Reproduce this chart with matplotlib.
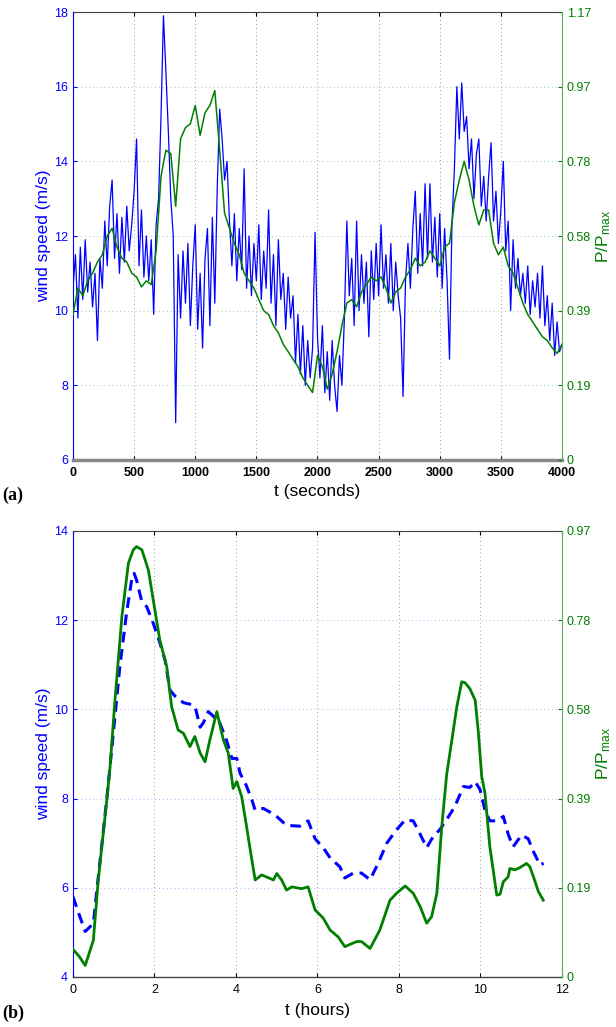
import numpy as np
import matplotlib
matplotlib.use("Agg")
import matplotlib.pyplot as plt

plt.rcParams['font.family'] = ['Liberation Sans', 'DejaVu Sans']
plt.rcParams['mathtext.fontset'] = 'custom'
plt.rcParams['mathtext.rm'] = 'Liberation Sans'
plt.rcParams['mathtext.it'] = 'Liberation Sans'

# ---- panel (a): 1 Hz record, every 20 s (wind) / 40 s (power)
t_wind_a = np.arange(0, 4001, 20)
wind_a = [
    10.6, 11.5, 9.8, 11.7, 10.3, 11.9, 10.5, 11.3, 10.1, 11.0,
    9.2, 11.4, 10.6, 12.4, 11.2, 12.8, 13.5, 11.4, 12.6, 11.0,
    12.5, 11.3, 12.8, 11.6, 12.3, 13.2, 14.6, 11.2, 12.7, 10.9,
    12.0, 10.8, 11.9, 9.9, 12.3, 13.0, 15.2, 17.9, 16.4, 14.8,
    13.0, 12.0, 7.0, 11.5, 9.8, 11.6, 10.2, 11.8, 9.6, 11.2,
    12.3, 9.5, 11.0, 9.0, 11.4, 12.2, 9.6, 12.5, 10.2, 13.3,
    15.4, 14.6, 13.5, 14.0, 12.4, 11.2, 12.6, 10.8, 12.2, 11.1,
    13.8, 10.6, 12.0, 10.4, 11.8, 10.8, 12.3, 10.3, 11.6, 10.6,
    12.7, 10.2, 11.5, 9.6, 11.9, 10.3, 11.0, 9.5, 10.9, 9.8,
    10.4, 8.6, 9.9, 8.3, 9.6, 8.0, 9.2, 8.2, 9.0, 12.1,
    9.3, 8.2, 9.6, 7.8, 8.9, 7.6, 9.2, 8.0, 7.3, 8.8,
    8.0, 9.8, 12.4, 10.4, 11.4, 9.6, 12.4, 10.0, 11.5, 10.2,
    11.3, 9.3, 11.6, 10.3, 11.8, 10.4, 12.3, 10.6, 11.5, 10.2,
    11.8, 10.0, 11.3, 10.4, 9.8, 7.7, 10.8, 11.8, 10.6, 12.2,
    13.2, 11.0, 12.6, 11.2, 13.4, 11.4, 13.4, 11.3, 12.5, 10.9,
    12.6, 10.6, 12.2, 10.8, 8.7, 12.3, 13.8, 16.0, 14.6, 16.1,
    14.8, 15.2, 13.8, 14.6, 13.0, 14.2, 14.6, 12.8, 13.6, 12.4,
    13.6, 14.5, 12.4, 13.2, 11.8, 12.7, 14.0, 11.6, 12.4, 10.0,
    11.9, 10.6, 11.4, 10.4, 11.0, 10.2, 11.2, 9.9, 10.8, 10.1,
    11.0, 9.8, 11.2, 9.6, 10.4, 9.2, 10.2, 8.8, 9.7, 8.9,
    9.1,
]
t_pow_a = np.arange(0, 4001, 40)
pow_a = [
    0.380, 0.449, 0.429, 0.468, 0.488, 0.517, 0.536, 0.585, 0.605, 0.556,
    0.527, 0.517, 0.488, 0.478, 0.452, 0.468, 0.458, 0.546, 0.741, 0.809,
    0.800, 0.663, 0.839, 0.868, 0.878, 0.926, 0.848, 0.907, 0.926, 0.965,
    0.809, 0.644, 0.605, 0.566, 0.536, 0.488, 0.468, 0.449, 0.419, 0.390,
    0.380, 0.351, 0.332, 0.302, 0.283, 0.263, 0.244, 0.215, 0.195, 0.176,
    0.273, 0.244, 0.185, 0.224, 0.283, 0.351, 0.410, 0.419, 0.400, 0.439,
    0.458, 0.478, 0.468, 0.478, 0.449, 0.410, 0.439, 0.449, 0.478, 0.497,
    0.527, 0.507, 0.517, 0.546, 0.527, 0.507, 0.556, 0.566, 0.673, 0.731,
    0.780, 0.731, 0.663, 0.614, 0.653, 0.653, 0.566, 0.536, 0.556, 0.507,
    0.488, 0.449, 0.410, 0.380, 0.361, 0.341, 0.322, 0.312, 0.293, 0.278,
    0.302,
]

# ---- panel (b): hourly-scale curves
t_wind_b = [
    0.0, 0.17, 0.3, 0.5, 0.58, 0.83, 0.99, 1.15, 1.32, 1.44,
    1.5, 1.56, 1.68, 1.81, 1.97, 2.13, 2.26, 2.38, 2.5, 2.71,
    2.95, 3.0, 3.12, 3.2, 3.32, 3.44, 3.6, 3.77, 3.9, 4.02,
    4.1, 4.25, 4.39, 4.47, 4.67, 4.96, 5.24, 5.57, 5.77, 5.94,
    6.14, 6.31, 6.55, 6.67, 6.88, 7.08, 7.29, 7.49, 7.7, 7.94,
    8.15, 8.35, 8.52, 8.68, 8.84, 9.0, 9.17, 9.37, 9.58, 9.74,
    9.87, 9.99, 10.11, 10.23, 10.4, 10.56, 10.68, 10.8, 11.01, 11.17,
    11.3, 11.46, 11.55,
]
wind_b = [
    5.8, 5.35, 5.02, 5.2, 5.9, 8.0, 9.47, 10.96, 12.2, 12.9,
    13.05, 12.9, 12.45, 12.3, 11.93, 11.5, 11.1, 10.43, 10.3, 10.15,
    10.1, 10.05, 9.6, 9.7, 9.95, 9.85, 9.7, 9.3, 8.9, 8.9,
    8.57, 8.3, 7.97, 7.74, 7.78, 7.63, 7.4, 7.38, 7.5, 7.1,
    6.9, 6.67, 6.47, 6.22, 6.33, 6.33, 6.18, 6.55, 7.0, 7.3,
    7.52, 7.5, 7.2, 6.9, 7.15, 7.3, 7.53, 7.82, 8.27, 8.25,
    8.38, 8.2, 7.74, 7.5, 7.5, 7.6, 7.2, 6.92, 7.18, 7.1,
    6.81, 6.51, 6.55,
]
t_pow_b = [
    0.0, 0.15, 0.3, 0.5, 0.62, 0.83, 0.91, 1.03, 1.2, 1.36,
    1.48, 1.56, 1.69, 1.85, 2.01, 2.13, 2.3, 2.42, 2.58, 2.71,
    2.87, 2.99, 3.12, 3.24, 3.36, 3.53, 3.69, 3.81, 3.89, 3.93,
    4.02, 4.14, 4.26, 4.39, 4.47, 4.63, 4.92, 5.0, 5.12, 5.24,
    5.37, 5.61, 5.77, 5.94, 6.14, 6.31, 6.51, 6.67, 6.96, 7.08,
    7.29, 7.53, 7.78, 7.94, 8.15, 8.35, 8.52, 8.68, 8.8, 8.93,
    9.05, 9.17, 9.42, 9.54, 9.62, 9.74, 9.87, 9.95, 10.03, 10.11,
    10.23, 10.4, 10.48, 10.56, 10.68, 10.72, 10.85, 10.97, 11.13, 11.21,
    11.3, 11.42, 11.54,
]
pow_b = [
    0.060, 0.045, 0.025, 0.080, 0.211, 0.385, 0.457, 0.602, 0.784, 0.900,
    0.929, 0.936, 0.929, 0.885, 0.798, 0.733, 0.675, 0.588, 0.537, 0.530,
    0.501, 0.523, 0.487, 0.468, 0.516, 0.577, 0.516, 0.487, 0.436, 0.410,
    0.425, 0.392, 0.327, 0.254, 0.211, 0.222, 0.211, 0.225, 0.211, 0.189,
    0.196, 0.192, 0.196, 0.146, 0.128, 0.102, 0.087, 0.066, 0.077, 0.077,
    0.062, 0.102, 0.167, 0.182, 0.198, 0.182, 0.153, 0.117, 0.131, 0.182,
    0.327, 0.440, 0.588, 0.642, 0.640, 0.627, 0.602, 0.530, 0.436, 0.400,
    0.283, 0.178, 0.180, 0.207, 0.218, 0.236, 0.233, 0.238, 0.247, 0.240,
    0.218, 0.186, 0.167,
]

BLUE = '#0000ff'
GREEN = '#007f00'
AX_GREEN = '#5fae5f'
FS = 9


def style_axes(ax, ax2, hgrid_color, bottom_lw, bottom_color, bold_x):
    ax.tick_params(direction='in', length=3, top=True, labelsize=FS)
    ax.tick_params(axis='x', pad=5)
    ax.tick_params(axis='y', colors=BLUE, labelcolor=BLUE)
    ax2.tick_params(direction='in', length=3, labelsize=FS)
    ax2.tick_params(axis='y', colors=GREEN, labelcolor=GREEN)
    ax.spines['left'].set_color(BLUE)
    ax.spines['top'].set_color('#444444')
    ax.spines['bottom'].set_color(bottom_color)
    ax.spines['bottom'].set_linewidth(bottom_lw)
    ax2.spines['right'].set_color(AX_GREEN)
    ax2.spines['left'].set_visible(False)
    ax2.spines['top'].set_visible(False)
    ax2.spines['bottom'].set_visible(False)
    ax.spines['right'].set_visible(False)
    ax.xaxis.grid(True, linestyle=(0, (1, 3)), color='#999999', linewidth=0.7)
    ax.yaxis.grid(True, linestyle=(0, (1, 3)), color=hgrid_color, linewidth=0.7)
    ax.set_axisbelow(True)
    if bold_x:
        for lab in ax.get_xticklabels():
            lab.set_fontweight('bold')


fig = plt.figure(figsize=(6.16, 10.27), dpi=100)

# (a)
ax1 = fig.add_axes([0.1185, 0.5521, 0.7938, 0.4362])
ax1.plot(t_wind_a, wind_a, color=BLUE, linewidth=0.9)
ax1.set_xlim(0, 4000)
ax1.set_ylim(6, 18)
ax1.set_xticks(np.arange(0, 4001, 500))
ax1.set_yticks(np.arange(6, 19, 2))
ax1.set_xlabel('t (seconds)', fontsize=12.5, labelpad=4)
ax1.set_ylabel('wind speed (m/s)', color=BLUE, fontsize=12.5, labelpad=2)

ax1r = ax1.twinx()
ax1r.plot(t_pow_a, pow_a, color=GREEN, linewidth=1.1)
ax1r.set_ylim(0, 1.17)
ax1r.set_yticks(np.linspace(0, 1.17, 7))
ax1r.set_yticklabels(['0', '0.19', '0.39', '0.58', '0.78', '0.97', '1.17'])
ax1r.set_ylabel(r'P/P$_{\rm max}$', color=GREEN, fontsize=12.5, labelpad=2)
style_axes(ax1, ax1r, '#9ad09a', 2.5, '#888888', True)

# (b)
ax2 = fig.add_axes([0.1185, 0.0487, 0.7938, 0.4343])
ax2.plot(t_wind_b, wind_b, color=BLUE, linewidth=2.2, linestyle=(0, (3.5, 2.2)))
ax2.set_xlim(0, 12)
ax2.set_ylim(4, 14)
ax2.set_xticks(np.arange(0, 13, 2))
ax2.set_yticks(np.arange(4, 15, 2))
ax2.set_xlabel('t (hours)', fontsize=12.5, labelpad=5)
ax2.set_ylabel('wind speed (m/s)', color=BLUE, fontsize=12.5, labelpad=2)

ax2r = ax2.twinx()
ax2r.plot(t_pow_b, pow_b, color=GREEN, linewidth=2.0)
ax2r.set_ylim(0, 0.97)
ax2r.set_yticks(np.linspace(0, 0.97, 6))
ax2r.set_yticklabels(['0', '0.19', '0.39', '0.58', '0.78', '0.97'])
ax2r.set_ylabel(r'P/P$_{\rm max}$', color=GREEN, fontsize=12.5, labelpad=2)
style_axes(ax2, ax2r, '#b0b0ff', 1.0, '#444444', False)

fig.text(0.003, 0.518, '(a)', fontsize=13, fontweight='bold',
         family=['Liberation Serif', 'DejaVu Serif'], va='center')
fig.text(0.003, 0.013, '(b)', fontsize=13, fontweight='bold',
         family=['Liberation Serif', 'DejaVu Serif'], va='center')

fig.savefig('out.png', dpi=100)
